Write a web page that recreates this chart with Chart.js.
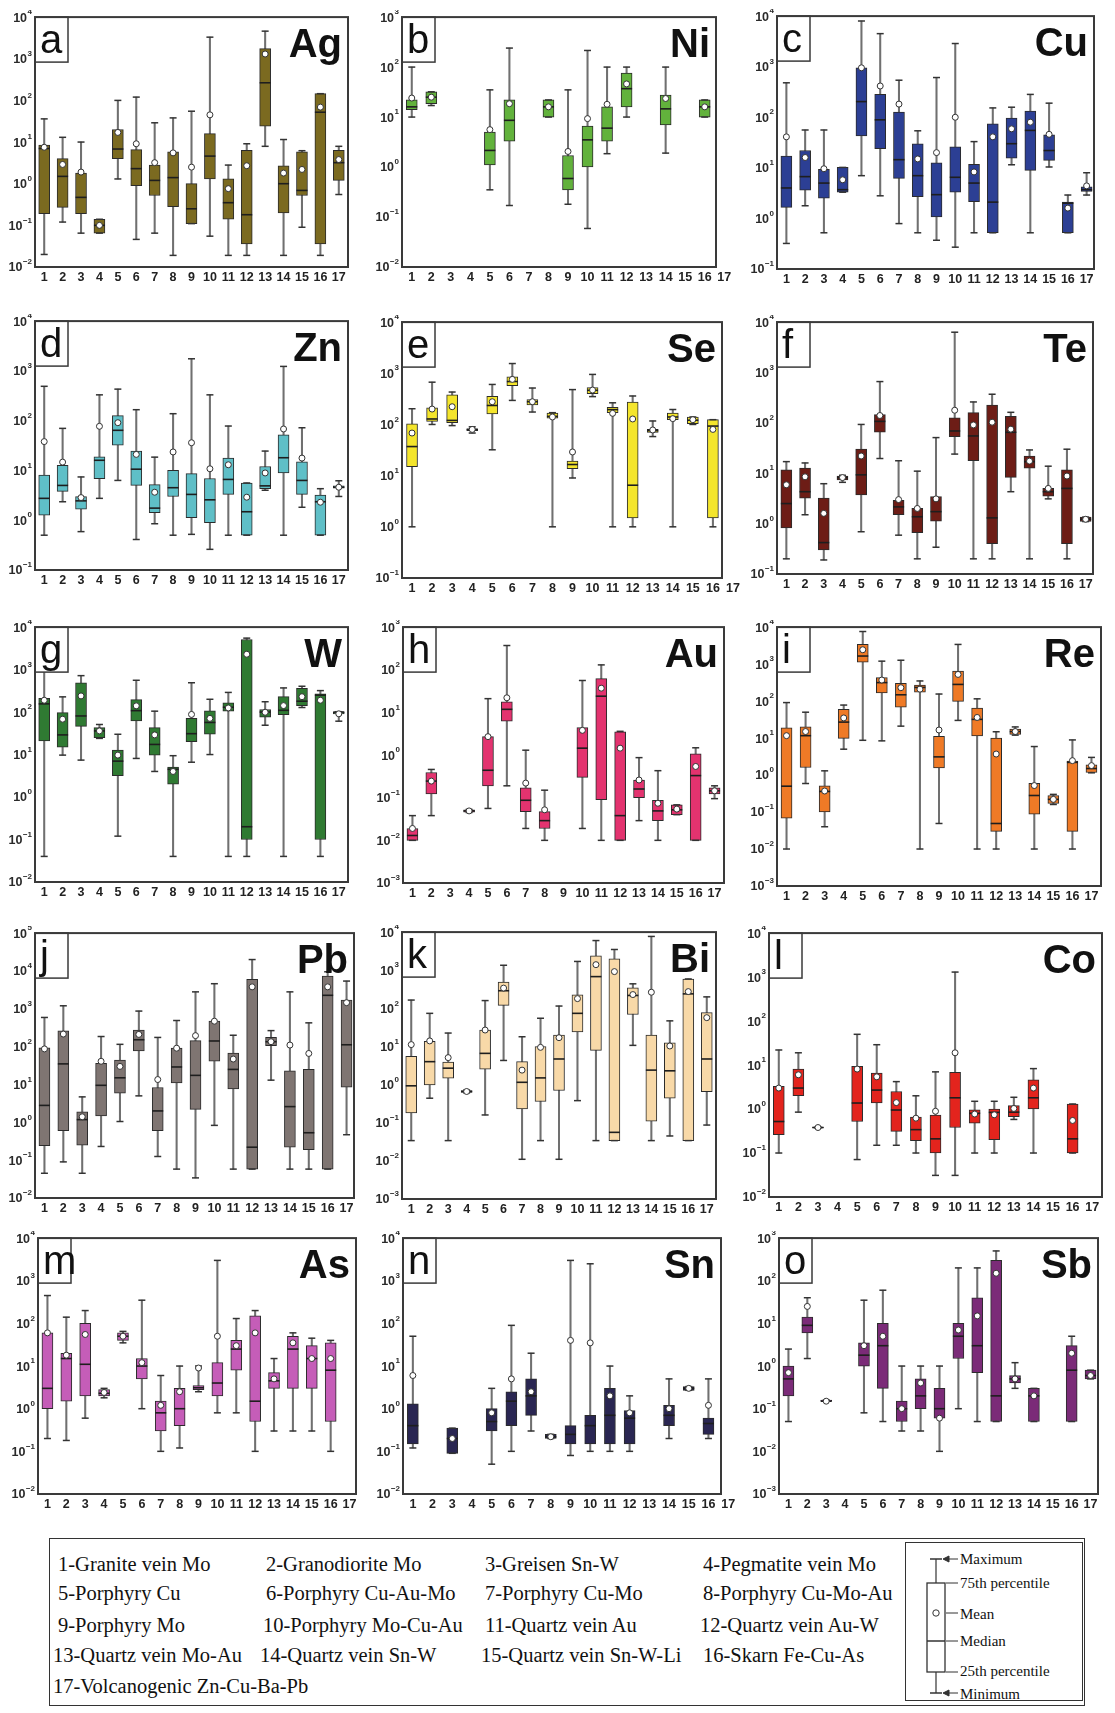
<!DOCTYPE html>
<html>
<head>
<meta charset="utf-8">
<script src="https://cdn.jsdelivr.net/npm/chart.js@4.4.0/dist/chart.umd.min.js"></script>
<style>
  body { margin: 0; background: #fff; width: 1115px; height: 1713px; position: relative; overflow: hidden; }
  .panel { position: absolute; }
  #legend { position: absolute; left: 49px; top: 1538px; width: 1036px; height: 168px; border: 1.5px solid #333; box-sizing: border-box;
            font-family: "Liberation Serif", "Times New Roman", serif; font-size: 20.5px; color: #111; }
  #legend .it { position: absolute; white-space: nowrap; transform: translateY(-50%); }
  #key { position: absolute; left: 855px; top: 3px; width: 178px; height: 159px; border: 1.5px solid #333; box-sizing: border-box; }
  #key .lb { position: absolute; font-size: 15px; white-space: nowrap; transform: translateY(-50%); }
</style>
</head>
<body>
<div id="legend"></div>
<script>
// rows per deposit type 1..17: [min, q1, median, q3, max, mean]
const Ag = [[0.02,0.19,7,8.5,36,7.5],[0.12,0.27,1.5,4,13,2.9],[0.065,0.19,0.47,1.8,10,1.9],[0.065,0.065,0.1,0.14,0.14,0.1],
  [1.3,4,6.8,20,100,17],[0.046,0.9,2.3,6.6,120,9.1],[0.065,0.52,1.2,2.8,29,3.2],[0.019,0.28,1.4,5.8,38,5.5],
  [0.11,0.11,0.25,1,55,2.5],[0.055,1.3,4.6,16,3300,45],[0.019,0.14,0.35,1.3,2.8,0.76],[0.019,0.036,0.18,6.3,9.1,2.7],
  [7.9,24,265,1750,4600,1300],[0.019,0.2,1,2.7,11.5,1.8],[0.09,0.52,0.69,5.8,6.2,2.2],[0.019,0.036,52,145,145,69],[0.55,1.2,3.2,6.3,7.9,3.8]];
const Ni = [[10,14,16,22,100,24],[17,18.5,25,32,32,25],null,null,[0.35,1.1,2.15,5,35,5.6],[0.17,3.3,8.6,22,240,18.5],null,
  [10,10,16,22,22,16],[0.18,0.35,0.59,1.7,35,2.05],[0.059,1,3.5,6.6,215,9.3],[1.85,3.3,6,16,100,18],[10,16,37,76,100,46],null,
  [1.9,7,14.6,27.5,100,23.5],null,[10,10,16,22,22,16],null];
const Cu = [[0.32,1.65,4,17,480,41],[1.78,3.6,6.7,22,56,16],[0.52,2.5,5,9.3,56,9.6],[3.3,3.3,3.7,10.2,10.2,5.8],
  [7,43,204,950,8000,950],[2.8,24,89,283,4500,415],[0.79,6.2,14.5,126,540,182],[0.52,2.7,7,30,54,15],
  [0.37,1.07,2.95,12.6,610,20],[0.27,3.3,6.5,26,2870,100],[0.52,2.15,5,11.7,33,8.3],[0.52,0.52,2.1,74,153,41],
  [11.5,15.5,30,96,158,59],[0.52,8.9,55,133,283,80],[10.4,14,22,45,190,46],[0.52,0.52,2,2.1,2.9,1.6],[2.9,3.4,3.7,4.2,8,4.4]];
const Zn = [[0.5,1.26,2.75,8.1,490,38],[2.35,3.8,5,12.6,70,14.7],[0.59,1.66,2.45,3,7.4,2.85],[2.75,6.8,16,18.7,330,77],
  [6.3,32,64,126,430,91],[0.41,5,10.6,24.5,166,21],[0.85,1.41,1.75,5.2,18.5,3.65],[0.5,3,4.5,10,138,23.5],
  [0.52,1.12,3.3,8.6,1750,36],[0.26,0.89,2.57,6.9,330,10.8],[0.5,3.3,6.6,17.8,78,13],[0.5,0.5,1.48,5.6,5.6,2.9],
  [4,4.3,4.9,12,24.5,8.9],[0.5,8.9,18,52,1230,68],[1.82,3.3,6.3,14.9,72,17.7],[0.5,0.5,2.35,3.2,4.3,2.3],[3,4.4,4.6,4.9,6.2,4.6]];
const Se = [[1,15,37,103,203,68],[100,115,128,212,670,200],[95,108,120,380,430,222],[68,76,80,82,90,80],
  [32,160,235,355,605,278],[295,570,690,855,1550,760],[175,240,278,305,515,278],[1,133,144,166,170,140],
  [9,13.7,16.5,19.3,480,29],[350,400,465,525,950,470],[1,170,195,215,265,165],[1,1.5,6.5,275,360,128],
  [58,70,76,80,117,78],[1,124,140,166,196,130],[100,104,121,140,140,124],[1,1.5,93,124,124,80],null];
const Te = [[0.2,0.82,2.5,11.7,17,5.9],[1.5,3.2,4.3,12.6,16,8.5],[0.19,0.3,0.42,3.2,6.2,1.6],[6.6,7.4,8.2,8.8,9.1,8.2],
  [0.69,3.7,9.3,30,93,22],[19.6,65,107,146,660,140],[0.59,1.5,2.15,2.9,17.7,3],[0.2,0.66,1.37,2,11,2],
  [0.34,1.12,1.73,3.45,51,3.1],[24,53,69,126,6300,178],[0.2,17.8,55,160,260,91],[0.2,0.4,1.3,225,370,103],
  [4.3,8.3,65,135,162,75],[0.2,12.6,17,22,29,17.4],[3.1,3.5,4.3,5,13.8,5],[0.2,0.4,5,11.7,30,8.8],[1.1,1.1,1.22,1.35,1.35,1.22]];
const W = [[0.04,21,156,210,1000,190],[9.7,15,29,97,228,68],[7.4,46,81,490,720,240],[24,25,36,43,51,36],
  [0.12,3.2,7,12.7,30,9.7],[8.1,62,108,197,560,140],[4,9.7,17.3,43,105,29],[0.04,2,4.5,5.1,9.4,4],
  [6.6,20,31,71,490,88],[10,30,57,107,200,71],[0.04,105,130,166,290,125],[0.04,0.1,0.2,5100,5500,2300],
  [49,76,100,115,175,99],[0.04,87,110,230,370,142],[128,142,180,360,405,230],[0.04,0.1,250,270,320,190],[61,91,100,100,102,91]];
const Au = [[0.01,0.01,0.013,0.019,0.038,0.019],[0.038,0.123,0.245,0.39,0.46,0.245],null,[0.045,0.046,0.049,0.052,0.053,0.049],
  [0.056,0.19,0.44,2.7,21,2.7],[0.19,6.2,11.8,17.7,370,22],[0.019,0.047,0.087,0.17,1.3,0.22],[0.01,0.019,0.029,0.047,0.15,0.052],
  null,[0.019,0.3,1.45,4.4,56,3.8],[0.01,0.09,24,62,130,37],[0.01,0.01,0.038,3.5,3.6,1.45],
  [0.029,0.1,0.16,0.26,0.87,0.26],[0.01,0.029,0.049,0.087,0.43,0.074],[0.04,0.04,0.052,0.068,0.068,0.054],[0.01,0.01,0.33,1.07,1.48,0.54],[0.095,0.123,0.145,0.17,0.19,0.145]];
const Re = [[0.01,0.068,0.5,19,91,11.6],[0.59,1.6,11.6,20,50,15],[0.04,0.1,0.36,0.51,1.3,0.37],[5,9.8,27,60,78,35],
  [8.7,1130,1650,3400,7600,2440],[8.4,165,316,430,1200,370],[21,68,148,300,1270,230],[0.01,175,234,270,350,210],
  [0.049,1.55,3.1,11.2,155,16.5],[30,98,282,650,3400,525],[0.01,11.4,32,65,115,36],[0.01,0.03,0.049,10,14.8,3.7],
  [12,12.6,15,17.6,20,15],[0.01,0.087,0.28,0.6,5.9,0.52],[0.16,0.17,0.22,0.28,0.3,0.22],[0.01,0.03,2.2,2.4,8.9,2.45],[1.15,1.17,1.5,1.9,3,1.8]];
const Pb = [[0.045,0.24,2.8,93,590,87],[0.09,0.6,35,260,1200,215],[0.045,0.25,1.18,1.9,4.7,1.4],[0.23,1.48,9.5,36,185,41],
  [1.05,5.9,15,44,115,30],[5,77,152,275,870,210],[0.125,0.6,2,8.3,175,13.5],[0.058,11,29,91,490,91],
  [0.034,2.2,17.4,144,2800,195],[0.83,41,141,470,4600,470],[0.058,7.6,25,68,200,47],[0.058,0.058,0.22,6000,20000,3800],
  [13,106,135,175,265,135],[0.058,0.22,2.6,23,2800,110],[0.058,0.19,0.53,25,425,66],[0.058,0.058,2270,7300,9500,3800],[0.47,8.5,112,1700,5400,1450]];
const Bi = [[0.034,0.18,0.93,5.5,165,11.2],[0.44,0.98,4,13.7,74,14],[0.034,1.48,2.7,3.9,22.5,5.1],[0.61,0.62,0.66,0.7,0.72,0.66],
  [0.16,2.55,6.6,27,160,27],[4.3,120,290,490,1350,340],[0.011,0.23,1.15,4,18,2.4],[0.034,0.36,1.5,10,55,9.5],
  [0.011,0.7,4.7,20,115,17],[0.38,24,74,225,1700,180],[0.034,7.9,680,2400,6000,1400],[0.034,0.034,0.056,2000,3500,920],
  [10.7,69,218,345,440,230],[0.034,0.11,2.4,20,7700,265],[0.045,0.44,2.3,12.4,47,10.3],[0.034,0.034,240,590,590,275],[0.087,0.65,4.7,77,200,57]];
const Co = [[0.1,0.26,0.52,3.3,22,3],[0.85,2,3,8.1,19,6],[0.37,0.37,0.38,0.39,0.39,0.38],null,
  [0.071,0.52,1.37,9.3,50,8.1],[0.15,1.38,2.7,6.6,29,5.4],[0.15,0.31,0.95,2.5,4.2,1.4],[0.1,0.19,0.34,0.66,2,0.62],
  [0.031,0.1,0.21,0.73,7,0.89],[0.031,0.38,1.8,6.8,1300,19],[0.1,0.48,0.8,0.96,1.5,0.77],[0.1,0.2,0.84,1,1.5,0.74],
  [0.58,0.67,0.85,1.2,1.85,1.03],[0.1,1,1.8,4.6,8.3,3],null,[0.1,0.1,0.21,1.3,1.3,0.55],null];
const As = [[0.2,1,3,60,450,60],[0.18,1.5,15,20,140,18],[0.6,2,11,100,200,55],[1.8,2,2.3,2.8,3,2.4],
  [35,40,50,60,65,50],[1,5,10,15,350,12],[0.1,0.3,0.8,1.5,6,1.2],[0.12,0.4,1,3,10,2.5],
  [2.5,2.8,3.1,3.5,10,9],[0.8,2,4,12,3000,50],[0.8,8,25,40,130,30],[0.1,0.5,1.5,150,200,60],
  [0.3,3,4.5,7,15,5],[0.3,3,25,50,60,35],[0.3,3,15,30,45,15],[0.1,0.5,8,35,40,15],null];
const Sn = [[0.12,0.15,0.4,1.3,50,6],null,[0.09,0.09,0.2,0.35,0.35,0.2],null,
  [0.05,0.3,0.5,1,3,0.8],[0.1,0.4,1.5,2.5,90,5],[0.3,0.7,2,5,20,2.5],[0.2,0.2,0.22,0.25,0.25,0.22],
  [0.08,0.15,0.25,0.4,3000,40],[0.1,0.15,0.4,0.7,2500,35],[0.1,0.15,0.7,3,10,2],[0.1,0.15,0.6,0.9,2,0.8],
  null,[0.2,0.4,0.7,1.2,5,1],[2.7,2.7,3,3.3,3.3,3],[0.2,0.25,0.45,0.6,5,1.2],null];
const Sb = [[0.05,0.2,0.5,1,2.5,0.7],[1.5,6,9,14,40,25],[0.15,0.15,0.15,0.16,0.16,0.15],null,
  [0.08,1,1.8,3.5,35,3],[0.05,0.3,3,10,60,5],[0.03,0.05,0.1,0.15,1,0.1],[0.03,0.1,0.2,0.5,1,0.4],
  [0.01,0.06,0.1,0.3,1,0.06],[0.1,1.5,5,10,200,7],[0.05,0.7,3,40,200,15],[0.05,0.05,0.2,300,500,150],
  [0.3,0.4,0.5,0.6,1.2,0.5],[0.05,0.05,0.2,0.3,0.3,0.2],null,[0.05,0.05,0.8,3,5,2],[0.5,0.5,0.6,0.8,0.8,0.6]];

const categories = ['1','2','3','4','5','6','7','8','9','10','11','12','13','14','15','16','17'];

const deposits = ['1-Granite vein Mo', '2-Granodiorite Mo', '3-Greisen Sn-W', '4-Pegmatite vein Mo',
  '5-Porphyry Cu', '6-Porphyry Cu-Au-Mo', '7-Porphyry Cu-Mo', '8-Porphyry Cu-Mo-Au',
  '9-Porphyry Mo', '10-Porphyry Mo-Cu-Au', '11-Quartz vein Au', '12-Quartz vein Au-W',
  '13-Quartz vein Mo-Au', '14-Quartz vein Sn-W', '15-Quartz vein Sn-W-Li', '16-Skarn Fe-Cu-As',
  '17-Volcanogenic Zn-Cu-Ba-Pb'];

// panel layout: plot rectangle [left, top, right, bottom], cut = frame stops short of axis
const panels = [
  {letter:'a', name:'Ag', rows:Ag, color:'#7b6a20', lo:-2, hi:4, rect:[35,16,348,267]},
  {letter:'b', name:'Ni', rows:Ni, color:'#62b23c', lo:-2, hi:3, rect:[402,16,734,267], cut:18},
  {letter:'c', name:'Cu', rows:Cu, color:'#2c3f94', lo:-1, hi:4, rect:[777,15,1096,269], cut:2},
  {letter:'d', name:'Zn', rows:Zn, color:'#5fbfc7', lo:-1, hi:4, rect:[35,320,348,570]},
  {letter:'e', name:'Se', rows:Se, color:'#f4e52c', lo:-1, hi:4, rect:[402,321,743,578], cut:21},
  {letter:'f', name:'Te', rows:Te, color:'#6d1d16', lo:-1, hi:4, rect:[777,321,1095,574], cut:2},
  {letter:'g', name:'W',  rows:W,  color:'#2f7a32', lo:-2, hi:4, rect:[35,626,348,882]},
  {letter:'h', name:'Au', rows:Au, color:'#e3336f', lo:-3, hi:3, rect:[403,626,724,883]},
  {letter:'i', name:'Re', rows:Re, color:'#ef7a26', lo:-3, hi:4, rect:[777,626,1101,886]},
  {letter:'j', name:'Pb', rows:Pb, color:'#7f7572', lo:-2, hi:5, rect:[35,932,356,1198], cut:2},
  {letter:'k', name:'Bi', rows:Bi, color:'#f8d9a8', lo:-3, hi:4, rect:[402,931,716,1199]},
  {letter:'l', name:'Co', rows:Co, color:'#e3241d', lo:-2, hi:4, rect:[769,932,1102,1197]},
  {letter:'m', name:'As', rows:As, color:'#c55db8', lo:-2, hi:4, rect:[38,1237,359,1494], cut:3},
  {letter:'n', name:'Sn', rows:Sn, color:'#2a2652', lo:-2, hi:4, rect:[403,1237,738,1494], cut:17},
  {letter:'o', name:'Sb', rows:Sb, color:'#7b2b78', lo:-3, hi:3, rect:[779,1237,1100,1494], cut:2}
];

const PAD_L = 40, PAD_R = 8, PAD_T = 6, X_H = 20;

const decor = {
  id: 'decor',
  afterDraw(chart) {
    const o = chart.options.plugins.decor;
    const ctx = chart.ctx, a = chart.chartArea, ys = chart.scales.y;
    const right = a.right - (o.cut || 0);
    ctx.save();
    // letter box
    ctx.fillStyle = '#fff';
    ctx.fillRect(a.left, a.top, 33, 45);
    ctx.strokeStyle = '#3a3a3a';
    ctx.lineWidth = 1.5;
    ctx.strokeRect(a.left, a.top, 33, 45);
    ctx.fillStyle = '#111';
    ctx.textBaseline = 'alphabetic';
    ctx.textAlign = 'left';
    ctx.font = '40px "Liberation Sans", Arial, sans-serif';
    ctx.fillText(o.letter, a.left + 5, a.top + 36);
    ctx.textAlign = 'right';
    ctx.font = 'bold 40px "Liberation Sans", Arial, sans-serif';
    ctx.fillText(o.name, right - 6, a.top + 40);
    // frame
    ctx.lineWidth = 2;
    ctx.strokeRect(a.left, a.top, right - a.left, a.bottom - a.top);
    // y labels 10^n
    ctx.fillStyle = '#2a2a2a';
    ctx.textBaseline = 'middle';
    for (let e = o.lo; e <= o.hi; e++) {
      const py = ys.getPixelForValue(Math.pow(10, e));
      const ex = String(e).replace('-', '\u2212');
      ctx.font = 'bold 8px "Liberation Sans", Arial, sans-serif';
      const we = ctx.measureText(ex).width;
      ctx.textAlign = 'left';
      ctx.fillText(ex, a.left - 3 - we, py - 5);
      ctx.font = 'bold 12.5px "Liberation Sans", Arial, sans-serif';
      ctx.textAlign = 'right';
      ctx.fillText('10', a.left - 3.5 - we, py + 1);
    }
    ctx.restore();
  }
};

function boxDatasets(rows, color) {
  const pick = i => rows.map(r => r ? r[i] : null);
  const dot = {type:'line', showLine:false, pointHoverRadius:0};
  return [
    {type:'bar', data: rows.map(r => r ? [r[0], r[4]] : null), backgroundColor:'#707070',
     barThickness:1.4, grouped:false, order:6},
    {type:'bar', data: rows.map(r => r ? [r[1], r[3]] : null), backgroundColor: color,
     borderColor:'#2b2b2b', borderWidth:1, borderSkipped:false, barThickness:11, grouped:false, order:5},
    Object.assign({data: pick(4), pointStyle:'line', pointRadius:3.5, pointBorderColor:'#333', pointBorderWidth:1.5, order:4}, dot),
    Object.assign({data: pick(0), pointStyle:'line', pointRadius:3.5, pointBorderColor:'#333', pointBorderWidth:1.5, order:3}, dot),
    Object.assign({data: pick(2), pointStyle:'line', pointRadius:5.5, pointBorderColor:'#1e1e1e', pointBorderWidth:1.6, order:2}, dot),
    Object.assign({data: pick(5), pointStyle:'circle', pointRadius:3, pointBackgroundColor:'#fff',
     pointBorderColor:'#333', pointBorderWidth:1, order:1}, dot)
  ];
}

panels.forEach(p => {
  const [l, t, r, b] = p.rect;
  const div = document.createElement('div');
  div.className = 'panel';
  div.style.left = (l - PAD_L) + 'px';
  div.style.top = (t - PAD_T) + 'px';
  div.style.width = (r - l + PAD_L + PAD_R) + 'px';
  div.style.height = (b - t + PAD_T + X_H) + 'px';
  const cv = document.createElement('canvas');
  div.appendChild(cv);
  document.body.appendChild(div);

  new Chart(cv, {
    type: 'bar',
    data: { labels: categories, datasets: boxDatasets(p.rows, p.color) },
    options: {
      responsive: true,
      maintainAspectRatio: false,
      animation: false,
      layout: { padding: { left: PAD_L, right: PAD_R, top: PAD_T, bottom: 0 } },
      plugins: {
        legend: { display: false },
        tooltip: { enabled: false },
        decor: { letter: p.letter, name: p.name, lo: p.lo, hi: p.hi, cut: p.cut || 0 }
      },
      scales: {
        x: {
          offset: true,
          grid: { display: false, drawTicks: false },
          border: { display: false },
          ticks: { color: '#222', padding: 3, autoSkip: false, maxRotation: 0,
                   font: { family: '"Liberation Sans", Arial, sans-serif', size: 12.5, weight: 'bold' } },
          afterFit: s => { s.height = X_H; }
        },
        y: {
          type: 'logarithmic',
          display: false,
          min: Math.pow(10, p.lo),
          max: Math.pow(10, p.hi)
        }
      }
    },
    plugins: [decor]
  });
});

// legend of deposit types
const legend = document.getElementById('legend');
const rowY = [25, 54, 86, 116, 147];
const colOf = [[8,216,435,653],[8,216,435,653],[8,213,435,650],[3,210,431,653],[3]];
deposits.forEach((d, i) => {
  const row = Math.floor(i / 4), col = i % 4;
  const el = document.createElement('div');
  el.className = 'it';
  el.style.left = colOf[row][col] + 'px';
  el.style.top = rowY[row] + 'px';
  el.textContent = d;
  legend.appendChild(el);
});

const key = document.createElement('div');
key.id = 'key';
key.innerHTML =
  '<svg width="175" height="156" style="position:absolute;left:0;top:0">' +
  '<line x1="30" y1="16" x2="30" y2="150" stroke="#333" stroke-width="1.2"/>' +
  '<line x1="24" y1="16" x2="36" y2="16" stroke="#333" stroke-width="1.5"/>' +
  '<line x1="24" y1="150" x2="36" y2="150" stroke="#333" stroke-width="1.5"/>' +
  '<rect x="21" y="40" width="18" height="89" fill="#fff" stroke="#333" stroke-width="1.3"/>' +
  '<line x1="21" y1="98" x2="39" y2="98" stroke="#333" stroke-width="1.5"/>' +
  '<circle cx="30" cy="70" r="3.2" fill="#fff" stroke="#333" stroke-width="1"/>' +
  '<g stroke="#333" stroke-width="1" fill="#333">' +
  '<line x1="38" y1="16" x2="52" y2="16"/><path d="M37 16 l6 -3 l0 6 z"/>' +
  '<line x1="40" y1="40" x2="52" y2="40"/>' +
  '<line x1="40" y1="70" x2="52" y2="70"/>' +
  '<line x1="40" y1="98" x2="52" y2="98"/>' +
  '<line x1="40" y1="129" x2="52" y2="129"/>' +
  '<line x1="38" y1="150" x2="52" y2="150"/><path d="M37 150 l6 -3 l0 6 z"/>' +
  '</g></svg>';
[['Maximum',16],['75th percentile',40],['Mean',71],['Median',98],['25th percentile',128],['Minimum',151]].forEach(([t, y]) => {
  const el = document.createElement('div');
  el.className = 'lb';
  el.style.left = '54px';
  el.style.top = y + 'px';
  el.textContent = t;
  key.appendChild(el);
});
legend.appendChild(key);
</script>
</body>
</html>
